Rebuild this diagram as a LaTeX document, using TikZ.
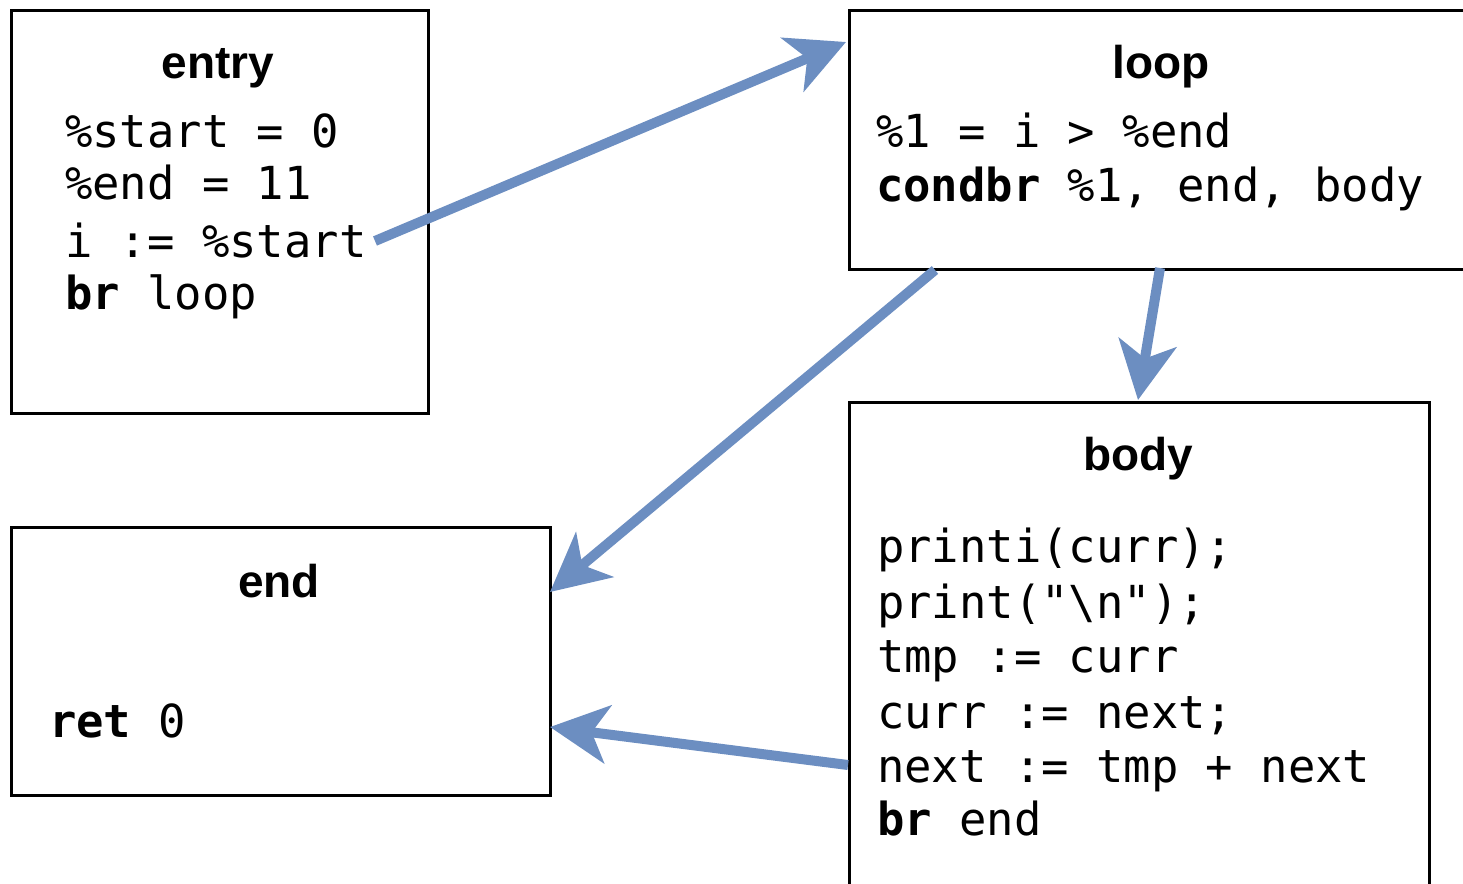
\documentclass[tikz,border=0pt]{standalone}
\usepackage{fontspec}
\setmainfont{Liberation Sans}
\setmonofont{DejaVu Sans Mono}
\usetikzlibrary{arrows.meta}
\definecolor{flow}{RGB}{108,142,193}
\begin{document}
\begin{tikzpicture}[x=1pt,y=-1pt,
  block/.style={draw=black, line width=3pt, inner sep=0pt, anchor=north west},
  title/.style={font=\fontsize{46}{55}\selectfont\bfseries, anchor=base, inner sep=0pt},
  code/.style={font=\fontsize{45.5}{54}\selectfont\ttfamily, anchor=base west, inner sep=0pt},
  flowarrow/.style={draw=flow, line width=10pt,
    -{Stealth[length=58pt,width=58pt,inset=16pt]}}]
\useasboundingbox (0,0) rectangle (1463,883);
\clip (0,0) rectangle (1463,883);

% basic blocks
\node[block, minimum width=417pt, minimum height=403pt] (entry) at (10,9) {};
\node[block, minimum width=626pt, minimum height=259pt] (loop) at (848,9) {};
\node[block, minimum width=580pt, minimum height=520pt] (body) at (848,401) {};
\node[block, minimum width=539pt, minimum height=268pt] (end) at (10,526) {};

% block titles
\node[title] (entry-t) at (218,78) {entry};
\node[title] (loop-t) at (1161,78) {loop};
\node[title] (body-t) at (1138,470) {body};
\node[title] (end-t) at (279,597) {end};

% entry
\node[code] (entry-1) at (65,147) {\%start = 0};
\node[code] (entry-2) at (65,199) {\%end = 11};
\node[code] (entry-3) at (65,257) {i := \%start};
\node[code] (entry-4) at (65,309) {\textbf{br} loop};

% loop
\node[code] (loop-1) at (876,147) {\%1 = i > \%end};
\node[code] (loop-2) at (876,201) {\textbf{condbr} \%1, end, body};

% body
\node[code] (body-1) at (877,562) {printi(curr);};
\node[code] (body-2) at (877,618) {print("\textbackslash n");};
\node[code] (body-3) at (877,672) {tmp := curr};
\node[code] (body-4) at (877,728) {curr := next;};
\node[code] (body-5) at (877,782) {next := tmp + next};
\node[code] (body-6) at (877,835) {\textbf{br} end};

% end
\node[code] (end-1) at (49,737) {\textbf{ret} 0};

% edge end points
\coordinate (entry-out) at (375,241);
\coordinate (loop-in) at (846,42);
\coordinate (loop-out1) at (935,270);
\coordinate (loop-out2) at (1160,268);
\coordinate (body-in) at (1138,400);
\coordinate (body-out) at (848,765);
\coordinate (end-in1) at (550,592);
\coordinate (end-in2) at (550,727);

% control flow edges
\draw[flowarrow] (entry-out) -- (loop-in);
\draw[flowarrow] (loop-out1) -- (end-in1);
\draw[flowarrow] (loop-out2) -- (body-in);
\draw[flowarrow] (body-out) -- (end-in2);
\end{tikzpicture}
\end{document}
